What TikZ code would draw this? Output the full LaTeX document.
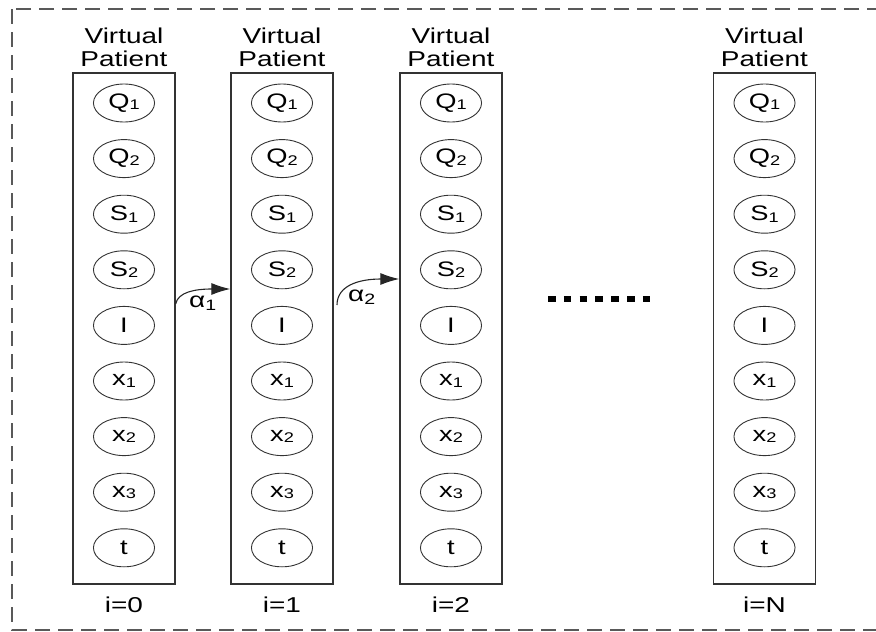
\documentclass[tikz,border=0pt]{standalone}
\usepackage{fontspec}
\setmainfont{Liberation Sans}
\usetikzlibrary{arrows.meta,shapes.geometric}
\newcommand{\sbs}[1]{\raisebox{-1.2pt}{\fontsize{14}{14}\selectfont #1}}
\begin{document}
\begin{tikzpicture}[x=1pt,y=-1pt,
 vbox/.style={draw=black!80, line width=1.3pt, minimum width=102pt, minimum height=511pt, inner sep=0pt},
 var/.style={draw=black!80, line width=0.9pt, ellipse, minimum width=47pt, minimum height=38pt, inner sep=0pt, xscale=1.3, font=\fontsize{21}{24}\selectfont},
 lbl/.style={align=center, xscale=1.3, font=\fontsize{21.5}{23}\selectfont, inner sep=0pt},
 arr/.style={-{Latex[length=19pt,width=12pt]}, line width=1.1pt, black!85},
 frame/.style={dash pattern=on 15pt off 8pt, line width=1.6pt, black!65}]
\useasboundingbox (0,0) rectangle (876,632);
\draw[frame] (12,9) rectangle (884,630);
\foreach \n/\x/\lab in {0/124/0, 1/282/1, 2/451/2, N/764.5/N} {
  \node[vbox] (b\n) at (\x,328.5) {};
  \node[lbl] (h\n) at (\x,47) {Virtual\\Patient};
  \node[lbl] (i\n) at (\x,605) {i=\lab};
  \foreach \v [count=\k from 0] in {Q\sbs{1}, Q\sbs{2}, S\sbs{1}, S\sbs{2}, I, x\sbs{1}, x\sbs{2}, x\sbs{3}, t} {
    \node[var] (v\n-\k) at (\x,{103+55.6*\k}) {\v};
  }
}
\coordinate (a1s) at (b0.east |- 0,304);
\coordinate (a1e) at (b1.west |- 0,289);
\draw[arr] (a1s) .. controls (178,292) and (195,289) .. (a1e);
\node[lbl] (al1) at (203,303) {α\textsubscript{1}};
\coordinate (a2s) at (337,305);
\coordinate (a2e) at (b2.west |- 0,279);
\draw[arr] (a2s) .. controls (337,286) and (358,279) .. (a2e);
\node[lbl] (al2) at (362,297) {α\textsubscript{2}};
\draw[line width=6pt, dash pattern=on 7.5pt off 8.3pt] (548,299) -- (652,299);
\end{tikzpicture}
\end{document}
